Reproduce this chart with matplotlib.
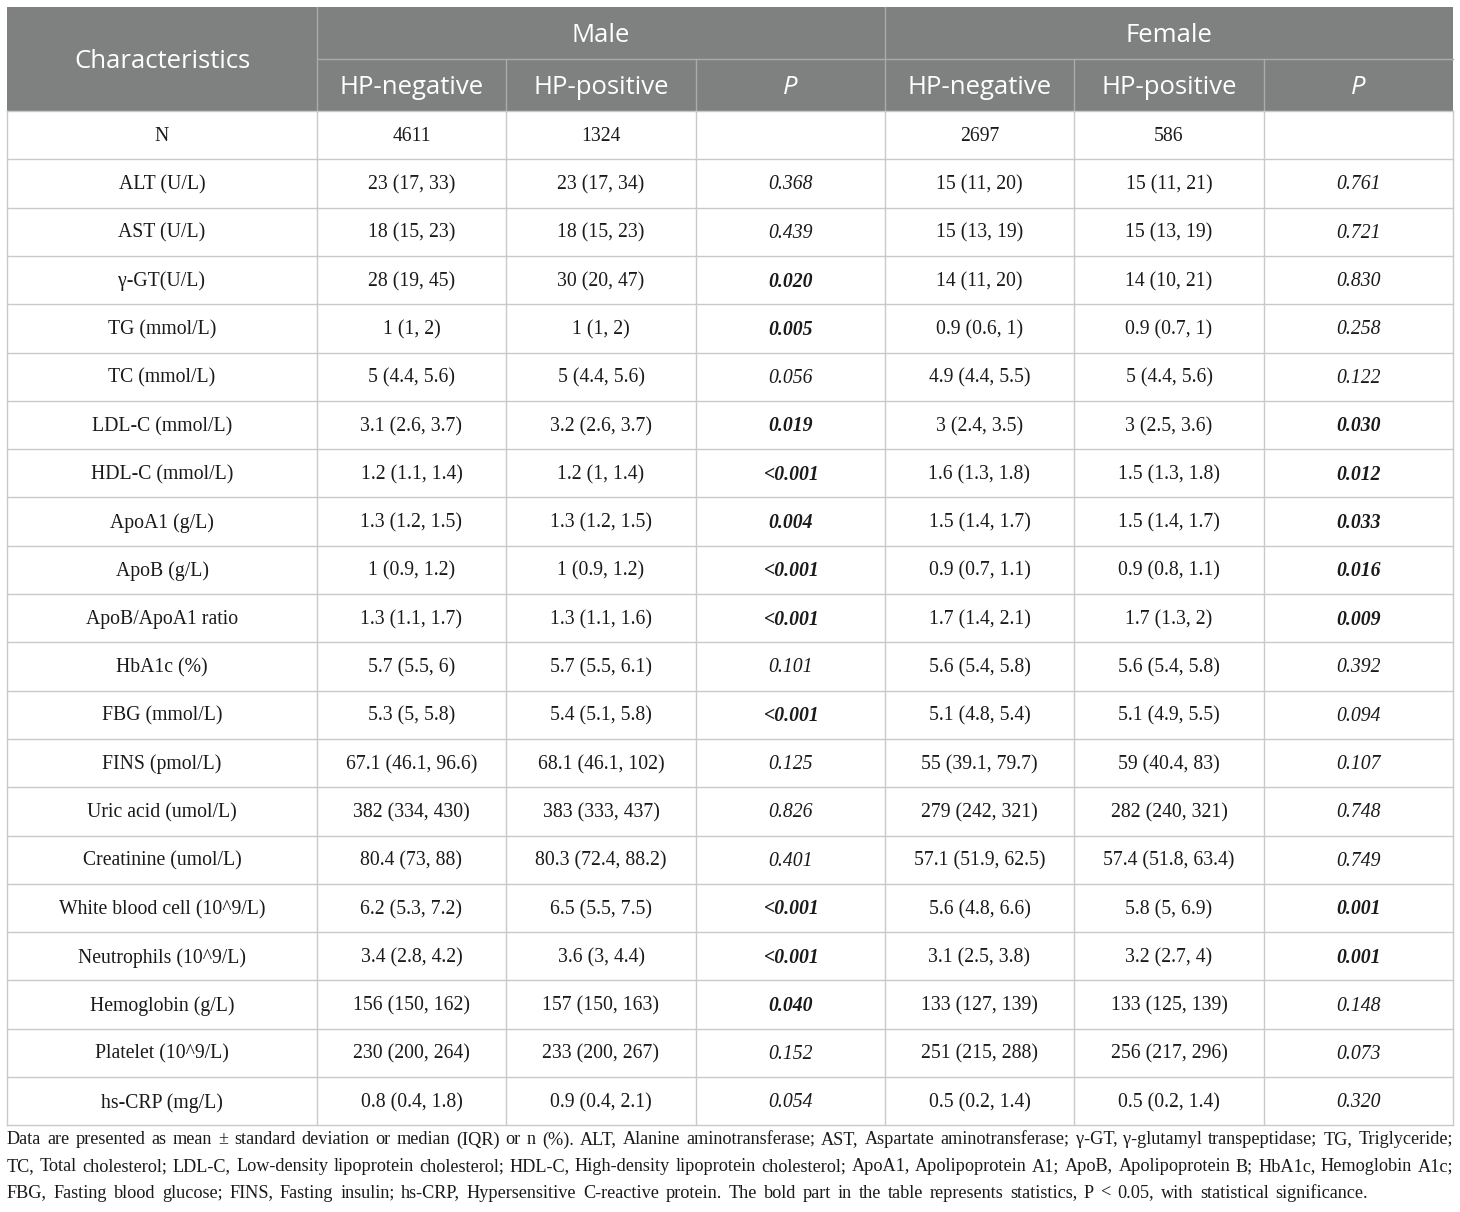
import matplotlib
matplotlib.use("Agg")
import matplotlib.pyplot as plt
from matplotlib.patches import Rectangle

# ---------------- data ----------------
group_labels = ["Male", "Female"]
sub_labels = ["HP-negative", "HP-positive", "P"]
first_header = "Characteristics"

characteristics = ["N", "ALT (U/L)", "AST (U/L)", "γ-GT(U/L)", "TG (mmol/L)", "TC (mmol/L)",
                   "LDL-C (mmol/L)", "HDL-C (mmol/L)", "ApoA1 (g/L)", "ApoB (g/L)",
                   "ApoB/ApoA1 ratio", "HbA1c (%)", "FBG (mmol/L)", "FINS (pmol/L)",
                   "Uric acid (umol/L)", "Creatinine (umol/L)", "White blood cell (10^9/L)",
                   "Neutrophils (10^9/L)", "Hemoglobin (g/L)", "Platelet (10^9/L)", "hs-CRP (mg/L)"]
male_neg = ["4611", "23 (17, 33)", "18 (15, 23)", "28 (19, 45)", "1 (1, 2)", "5 (4.4, 5.6)",
            "3.1 (2.6, 3.7)", "1.2 (1.1, 1.4)", "1.3 (1.2, 1.5)", "1 (0.9, 1.2)", "1.3 (1.1, 1.7)",
            "5.7 (5.5, 6)", "5.3 (5, 5.8)", "67.1 (46.1, 96.6)", "382 (334, 430)", "80.4 (73, 88)",
            "6.2 (5.3, 7.2)", "3.4 (2.8, 4.2)", "156 (150, 162)", "230 (200, 264)", "0.8 (0.4, 1.8)"]
male_pos = ["1324", "23 (17, 34)", "18 (15, 23)", "30 (20, 47)", "1 (1, 2)", "5 (4.4, 5.6)",
            "3.2 (2.6, 3.7)", "1.2 (1, 1.4)", "1.3 (1.2, 1.5)", "1 (0.9, 1.2)", "1.3 (1.1, 1.6)",
            "5.7 (5.5, 6.1)", "5.4 (5.1, 5.8)", "68.1 (46.1, 102)", "383 (333, 437)", "80.3 (72.4, 88.2)",
            "6.5 (5.5, 7.5)", "3.6 (3, 4.4)", "157 (150, 163)", "233 (200, 267)", "0.9 (0.4, 2.1)"]
male_p = ["", "0.368", "0.439", "0.020", "0.005", "0.056", "0.019", "<0.001", "0.004", "<0.001",
          "<0.001", "0.101", "<0.001", "0.125", "0.826", "0.401", "<0.001", "<0.001", "0.040",
          "0.152", "0.054"]
female_neg = ["2697", "15 (11, 20)", "15 (13, 19)", "14 (11, 20)", "0.9 (0.6, 1)", "4.9 (4.4, 5.5)",
              "3 (2.4, 3.5)", "1.6 (1.3, 1.8)", "1.5 (1.4, 1.7)", "0.9 (0.7, 1.1)", "1.7 (1.4, 2.1)",
              "5.6 (5.4, 5.8)", "5.1 (4.8, 5.4)", "55 (39.1, 79.7)", "279 (242, 321)", "57.1 (51.9, 62.5)",
              "5.6 (4.8, 6.6)", "3.1 (2.5, 3.8)", "133 (127, 139)", "251 (215, 288)", "0.5 (0.2, 1.4)"]
female_pos = ["586", "15 (11, 21)", "15 (13, 19)", "14 (10, 21)", "0.9 (0.7, 1)", "5 (4.4, 5.6)",
              "3 (2.5, 3.6)", "1.5 (1.3, 1.8)", "1.5 (1.4, 1.7)", "0.9 (0.8, 1.1)", "1.7 (1.3, 2)",
              "5.6 (5.4, 5.8)", "5.1 (4.9, 5.5)", "59 (40.4, 83)", "282 (240, 321)", "57.4 (51.8, 63.4)",
              "5.8 (5, 6.9)", "3.2 (2.7, 4)", "133 (125, 139)", "256 (217, 296)", "0.5 (0.2, 1.4)"]
female_p = ["", "0.761", "0.721", "0.830", "0.258", "0.122", "0.030", "0.012", "0.033", "0.016",
            "0.009", "0.392", "0.094", "0.107", "0.748", "0.749", "0.001", "0.001", "0.148",
            "0.073", "0.320"]

footnote_lines = [
    "Data are presented as mean ± standard deviation or median (IQR) or n (%). ALT, Alanine aminotransferase; AST, Aspartate aminotransferase; γ-GT, γ-glutamyl transpeptidase; TG, Triglyceride;",
    "TC, Total cholesterol; LDL-C, Low-density lipoprotein cholesterol; HDL-C, High-density lipoprotein cholesterol; ApoA1, Apolipoprotein A1; ApoB, Apolipoprotein B; HbA1c, Hemoglobin A1c;",
    "FBG, Fasting blood glucose; FINS, Fasting insulin; hs-CRP, Hypersensitive C-reactive protein. The bold part in the table represents statistics, P < 0.05, with statistical significance.",
]

# ---------------- layout ----------------
W, H = 1460, 1212
fig = plt.figure(figsize=(W / 100, H / 100), dpi=100)
ax = fig.add_axes([0, 0, 1, 1])
ax.set_xlim(0, W)
ax.set_ylim(H, 0)
ax.axis("off")

col_x = [7, 317, 506, 696, 885, 1074, 1264, 1453]
hdr_top, hdr_mid, hdr_bot = 7, 59, 111
row_h = 48.3
n_rows = len(characteristics)
body_bot = hdr_bot + row_h * n_rows

HDR_FILL = "#7f8180"
HDR_LINE = "#a9abaa"
GRID = "#c9c9c9"
TXT = "#1a1a1a"
SANS = ["Open Sans", "DejaVu Sans"]
SERIF = ["Liberation Serif", "DejaVu Serif"]

# header background
ax.add_patch(Rectangle((col_x[0], hdr_top), col_x[-1] - col_x[0], hdr_bot - hdr_top,
                       facecolor=HDR_FILL, edgecolor="none", zorder=1))
lw = 1.0
ax.plot([col_x[1], col_x[-1]], [hdr_mid, hdr_mid], color=HDR_LINE, lw=lw, zorder=2)
for i in [1, 4]:
    ax.plot([col_x[i], col_x[i]], [hdr_top, hdr_bot], color=HDR_LINE, lw=lw, zorder=2)
for i in [2, 3, 5, 6]:
    ax.plot([col_x[i], col_x[i]], [hdr_mid, hdr_bot], color=HDR_LINE, lw=lw, zorder=2)

# body grid
for r in range(n_rows + 1):
    y = hdr_bot + r * row_h
    ax.plot([col_x[0], col_x[-1]], [y, y], color=GRID, lw=lw, zorder=2)
for x in col_x:
    ax.plot([x, x], [hdr_bot, body_bot], color=GRID, lw=lw, zorder=2)

# header text
HFS = 18.5
ax.text((col_x[0] + col_x[1]) / 2, (hdr_top + hdr_bot) / 2 + 3, first_header, ha="center",
        va="center", color="white", fontsize=HFS, family=SANS, zorder=3)
for g, lab in enumerate(group_labels):
    x0, x1 = col_x[1 + 3 * g], col_x[4 + 3 * g]
    ax.text((x0 + x1) / 2, (hdr_top + hdr_mid) / 2 + 3, lab, ha="center", va="center",
            color="white", fontsize=HFS, family=SANS, zorder=3)
    for k, sl in enumerate(sub_labels):
        xc = (col_x[1 + 3 * g + k] + col_x[2 + 3 * g + k]) / 2
        ax.text(xc, (hdr_mid + hdr_bot) / 2 + 3, sl, ha="center", va="center", color="white",
                fontsize=HFS, family=SANS, style="italic" if sl == "P" else "normal", zorder=3)


def is_sig(p):
    if not p:
        return False
    if p.startswith("<"):
        return float(p[1:]) <= 0.05
    return float(p) < 0.05


BFS = 14.2
columns = [characteristics, male_neg, male_pos, male_p, female_neg, female_pos, female_p]
for r in range(n_rows):
    yc = hdr_bot + row_h * (r + 0.5) + 1.5
    for c, col in enumerate(columns):
        s = col[r]
        if not s:
            continue
        xc = (col_x[c] + col_x[c + 1]) / 2
        kw = {}
        if c in (3, 6):
            kw["style"] = "italic"
            if is_sig(s):
                kw["weight"] = "bold"
        ax.text(xc, yc, s, ha="center", va="center", color=TXT, fontsize=BFS, family=SERIF,
                zorder=3, **kw)

# footnote (justified)
renderer = fig.canvas.get_renderer()
left = col_x[0]
line_right = [col_x[-1], col_x[-1], 1368]
probe_fs = 10.0
probes = [ax.text(0, 0, ln, fontsize=probe_fs, family=SERIF) for ln in footnote_lines]
max_w = max(p.get_window_extent(renderer).width for p in probes)
for p in probes:
    p.remove()
FFS = probe_fs * (col_x[-1] - left) * 0.985 / max_w

foot_y = [1140, 1166.5, 1193]
for li, line in enumerate(footnote_lines):
    words = line.split(" ")
    arts = [ax.text(0, foot_y[li], w, ha="left", va="center", color=TXT, fontsize=FFS,
                    family=SERIF) for w in words]
    widths = [a.get_window_extent(renderer).width for a in arts]
    gap = (line_right[li] - left - sum(widths)) / (len(words) - 1)
    x = left
    for a, wdt in zip(arts, widths):
        a.set_x(x)
        x += wdt + gap

fig.savefig("out.png", dpi=100)
